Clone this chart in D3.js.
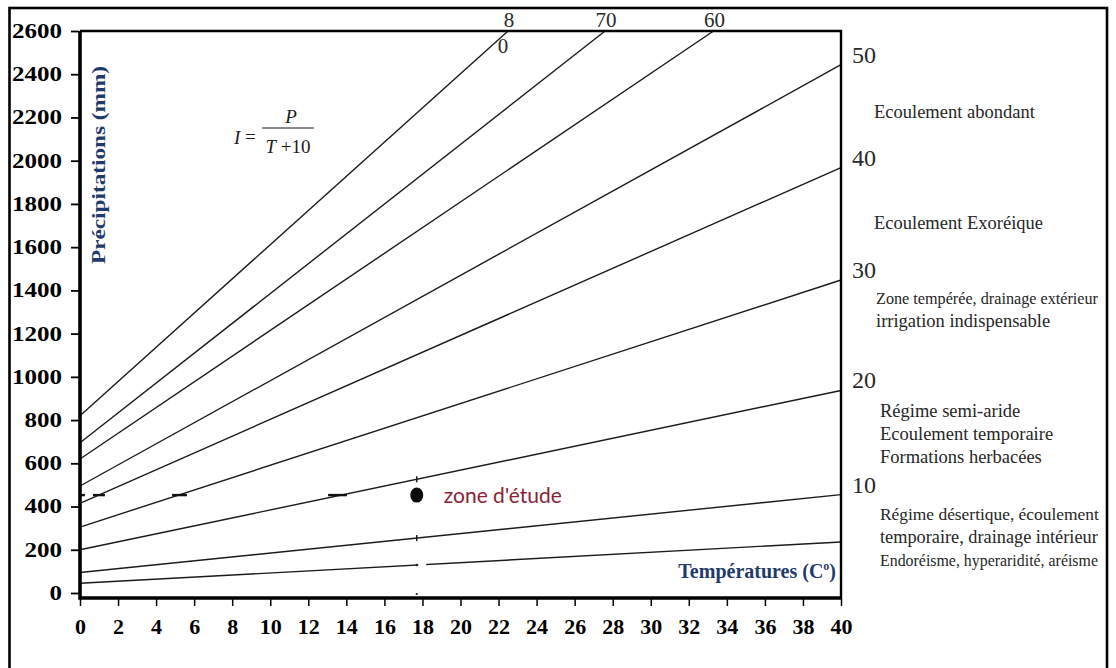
<!DOCTYPE html>
<html>
<head>
<meta charset="utf-8">
<script src="https://cdn.jsdelivr.net/npm/d3@7"></script>
<style>
  body { margin: 0; background: #fff; }
  svg { display: block; }
</style>
</head>
<body>
<svg id="chart" width="1116" height="668"></svg>
<script>
// Abaque de l'indice d'aridité de De Martonne : I = P / (T + 10)

// Iso-index lines: value of I, precipitation at T = 0, and where each line stops
const aridityIndex = [5, 10, 20, 30, 40, 50, 60, 70, 80];
const startP = [45, 95, 200, 305, 415, 495, 620, 695, 820];
const endT   = [40, 40, 40, 40, 40, 40, 33.3, 27.6, 22.5];
const endP   = [236, 455, 937, 1448, 1968, 2444, 2600, 2600, 2600];

// Labels written at the end of each line (upper part / lower part of the label)
const labelAbove = ["", "10", "20", "30", "40", "50", "60", "70", "8"];
const labelBelow = ["", "", "", "", "", "", "", "", "0"];

// Axes
const yTicks = [0, 200, 400, 600, 800, 1000, 1200, 1400, 1600, 1800, 2000, 2200, 2400, 2600];
const xTicks = [0, 2, 4, 6, 8, 10, 12, 14, 16, 18, 20, 22, 24, 26, 28, 30, 32, 34, 36, 38, 40];

// Study area
const studyT = 17.7;
const studyP = 453;
const studyLabel = "zone d'étude";
const guideDashT = [[0, 0.26], [0.68, 1.31], [4.84, 5.62], [13.04, 14.03]];

// Climate regimes between index lines
const regimeNotes = [
  ["Ecoulement abondant"],
  ["Ecoulement Exoréique"],
  ["Zone tempérée, drainage extérieur", "irrigation indispensable"],
  ["Régime semi-aride", "Ecoulement temporaire", "Formations herbacées"],
  ["Régime désertique, écoulement", "temporaire, drainage intérieur", "Endoréisme, hyperaridité, aréisme"]
];

const SERIF = "'Liberation Serif', 'Times New Roman', serif";
const NAVY = "#1f3a6b";
const INK = "#1b1b1b";

const svg = d3.select("#chart");
const plot = { left: 80, right: 841, top: 31, bottom: 598 };
const frameRight = 1107;

const x = d3.scaleLinear().domain([0, 40]).range([plot.left, plot.right]);
const y = d3.scaleLinear().domain([0, 2600]).range([593, plot.top]);

// outer frame (bottom edge lies below the visible area)
svg.append("rect")
  .attr("x", 9.5).attr("y", 8).attr("width", frameRight - 9.5).attr("height", 700)
  .attr("fill", "none").attr("stroke", "#000").attr("stroke-width", 2.6);

// iso-index lines
const lineGen = d3.line().x(d => x(d[0])).y(d => y(d[1]));
const linesG = svg.append("g");
aridityIndex.forEach((I, i) => {
  linesG.append("path")
    .attr("d", lineGen([[0, startP[i]], [endT[i], endP[i]]]))
    .attr("fill", "none")
    .attr("stroke", INK)
    .attr("stroke-width", 1.4);
});

// small break and guide marks where the study temperature crosses the low lines
const pAt = (i, t) => startP[i] + (endP[i] - startP[i]) * t / endT[i];
linesG.append("rect")
  .attr("x", x(studyT) + 1.5).attr("y", y(pAt(0, studyT)) - 2)
  .attr("width", 8).attr("height", 4).attr("fill", "#fff");
linesG.append("circle")
  .attr("cx", x(studyT)).attr("cy", y(pAt(0, studyT))).attr("r", 1.2).attr("fill", INK);
[1, 2].forEach(i => {
  linesG.append("line")
    .attr("x1", x(studyT)).attr("x2", x(studyT))
    .attr("y1", y(pAt(i, studyT)) - 3).attr("y2", y(pAt(i, studyT)) + 3)
    .attr("stroke", INK).attr("stroke-width", 1.5);
});
linesG.append("circle")
  .attr("cx", x(studyT)).attr("cy", y(0) + 1).attr("r", 1.1).attr("fill", INK);

// horizontal guide dashes toward the study point
guideDashT.forEach(([a, b]) => {
  svg.append("line")
    .attr("x1", x(a)).attr("x2", x(b))
    .attr("y1", y(studyP)).attr("y2", y(studyP))
    .attr("stroke", "#111").attr("stroke-width", 2.4);
});

// plot box
svg.append("path")
  .attr("d", `M${plot.left},${plot.top}H${plot.right}V${plot.bottom}`)
  .attr("fill", "none").attr("stroke", "#000").attr("stroke-width", 2.4);
svg.append("path")
  .attr("d", `M${plot.left},${plot.top}V${plot.bottom}H${plot.right}`)
  .attr("fill", "none").attr("stroke", "#000").attr("stroke-width", 3.6);

// y axis
const yAxis = svg.append("g")
  .attr("transform", `translate(${plot.left - 1},0)`)
  .call(d3.axisLeft(y).tickValues(yTicks).tickSize(8).tickPadding(9).tickFormat(d3.format("d")));
yAxis.select(".domain").remove();
yAxis.selectAll(".tick line").attr("stroke", "#000").attr("stroke-width", 1.8);
yAxis.selectAll(".tick text")
  .attr("font-family", SERIF).attr("font-weight", "bold").attr("font-size", 20)
  .attr("fill", "#000")
  .each(function () {
    const w = this.getComputedTextLength();
    d3.select(this).attr("textLength", w * 1.25).attr("lengthAdjust", "spacingAndGlyphs");
  });

// x axis
const xAxis = svg.append("g")
  .attr("transform", `translate(0,${plot.bottom})`)
  .call(d3.axisBottom(x).tickValues(xTicks).tickSize(8).tickFormat(d3.format("d")));
xAxis.select(".domain").remove();
xAxis.selectAll(".tick line").attr("stroke", "#000").attr("stroke-width", 1.5);
xAxis.selectAll(".tick text")
  .attr("y", 36).attr("dy", 0)
  .attr("font-family", SERIF).attr("font-weight", "bold").attr("font-size", 22)
  .attr("fill", "#000");

// axis titles
svg.append("text")
  .attr("transform", "translate(105,165) rotate(-90)")
  .attr("text-anchor", "middle")
  .attr("font-family", SERIF).attr("font-weight", "bold").attr("font-size", 18)
  .attr("fill", NAVY)
  .attr("textLength", 198).attr("lengthAdjust", "spacingAndGlyphs")
  .text("Précipitations (mm)");

const tTitle = svg.append("text")
  .attr("x", 836).attr("y", 578)
  .attr("text-anchor", "end")
  .attr("font-family", SERIF).attr("font-weight", "bold").attr("font-size", 20)
  .attr("fill", NAVY);
tTitle.append("tspan").text("Températures (C");
tTitle.append("tspan").attr("font-size", 12).attr("dy", -8).text("o");
tTitle.append("tspan").attr("dy", 8).text(")");

// formula I = P / (T + 10)
const f = svg.append("g").attr("font-family", SERIF).attr("font-size", 19).attr("fill", INK);
f.append("text").attr("x", 234).attr("y", 144).attr("font-style", "italic").text("I");
f.append("text").attr("x", 245).attr("y", 143).text("=");
f.append("line").attr("x1", 262).attr("x2", 314).attr("y1", 128).attr("y2", 128)
  .attr("stroke", INK).attr("stroke-width", 1.1);
f.append("text").attr("x", 291).attr("y", 123).attr("text-anchor", "middle")
  .attr("font-style", "italic").text("P");
const den = f.append("text").attr("x", 288).attr("y", 153).attr("text-anchor", "middle");
den.append("tspan").attr("font-style", "italic").text("T");
den.append("tspan").text(" +10");

// index labels at line ends
const labG = svg.append("g").attr("font-family", SERIF).attr("fill", "#2a2a2a");
aridityIndex.forEach((I, i) => {
  if (!labelAbove[i]) return;
  if (endT[i] >= 40) {
    labG.append("text")
      .attr("x", x(endT[i]) + 11).attr("y", y(endP[i]) - 2)
      .attr("font-size", 24)
      .text(labelAbove[i]);
  } else {
    labG.append("text")
      .attr("x", x(endT[i]) + 1).attr("y", plot.top - 4)
      .attr("text-anchor", "middle").attr("font-size", 21)
      .text(labelAbove[i]);
    if (labelBelow[i]) {
      labG.append("text")
        .attr("x", x(endT[i]) - 5).attr("y", plot.top + 22)
        .attr("text-anchor", "middle").attr("font-size", 21)
        .text(labelBelow[i]);
    }
  }
});

// regime descriptions on the right; a long line gets a smaller size to stay inside the frame
const noteTop = [118, 229, 304, 417, 520];
const noteX = [874, 874, 876, 880, 880];
const noteSize = 18.5;
const notes = svg.append("g")
  .attr("font-family", SERIF).attr("fill", "#262626");
regimeNotes.forEach((lines, k) => {
  lines.forEach((txt, j) => {
    const t = notes.append("text")
      .attr("x", noteX[k]).attr("y", noteTop[k] + j * 22.8)
      .attr("font-size", noteSize)
      .text(txt);
    const room = frameRight - 8 - noteX[k];
    const w = t.node().getComputedTextLength();
    if (w > room) t.attr("font-size", Math.floor(noteSize * room / w * 10) / 10);
  });
});

// study area point and label
svg.append("ellipse")
  .attr("cx", x(studyT)).attr("cy", y(studyP))
  .attr("rx", 6.5).attr("ry", 7.5).attr("fill", "#0a0a0a");
svg.append("text")
  .attr("x", x(studyT) + 27).attr("y", y(studyP) + 8)
  .attr("font-family", "Lato, 'Open Sans', sans-serif").attr("font-size", 21)
  .attr("fill", "#8b2338")
  .text(studyLabel);
</script>
</body>
</html>
